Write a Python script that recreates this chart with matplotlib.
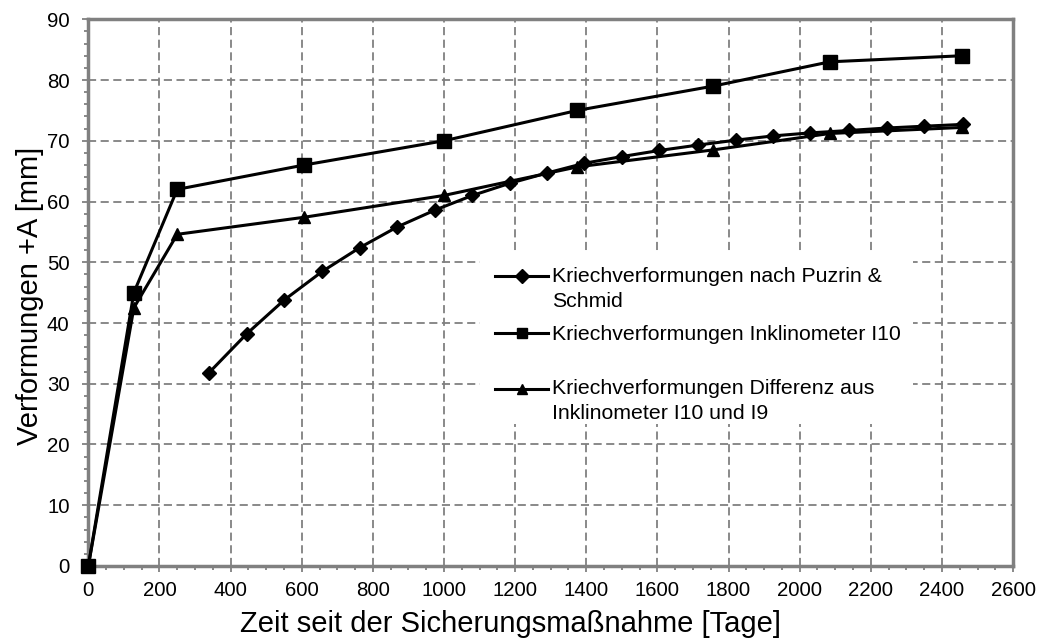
import matplotlib.pyplot as plt
from matplotlib.patches import Rectangle
from matplotlib.ticker import MultipleLocator

plt.rcParams['font.family'] = ['Liberation Sans', 'DejaVu Sans']

# Kriechverformungen nach Puzrin & Schmid
t_puzrin = [339, 445, 551, 658, 763, 868, 975, 1080, 1185, 1290, 1395,
            1500, 1605, 1715, 1820, 1925, 2030, 2140, 2245, 2350, 2460]
v_puzrin = [31.8, 38.2, 43.8, 48.5, 52.4, 55.8, 58.6, 61.0, 63.0, 64.7, 66.3,
            67.4, 68.4, 69.3, 70.1, 70.8, 71.3, 71.7, 72.1, 72.4, 72.7]

# Inklinometer I10
t_i10 = [0, 128, 250, 606, 1000, 1375, 1757, 2085, 2457]
v_i10 = [0, 45.0, 62.0, 66.0, 70.0, 75.0, 79.0, 83.0, 84.0]

# Differenz aus I10 und I9
t_diff = [0, 128, 250, 606, 1000, 1375, 1757, 2085, 2457]
v_diff = [0, 42.5, 54.6, 57.4, 61.0, 65.7, 68.5, 71.2, 72.2]

# blank first lines keep the legend lines on the first text row
labels = ['\nKriechverformungen nach Puzrin &\nSchmid',
          'Kriechverformungen Inklinometer I10',
          '\nKriechverformungen Differenz aus\nInklinometer I10 und I9']

fig = plt.figure(figsize=(10.38, 6.43), dpi=100)
ax = fig.add_axes([0.0851, 0.1198, 0.8909, 0.8502])

l1, = ax.plot(t_puzrin, v_puzrin, color='black', lw=2.2, marker='D', ms=7,
              zorder=4, clip_on=False)
l2, = ax.plot(t_i10, v_i10, color='black', lw=2.2, marker='s', ms=10,
              zorder=4, clip_on=False)
l3, = ax.plot(t_diff, v_diff, color='black', lw=2.2, marker='^', ms=9,
              zorder=4, clip_on=False)

ax.set_xlim(0, 2600)
ax.set_ylim(0, 90)
ax.xaxis.set_major_locator(MultipleLocator(200))
ax.xaxis.set_minor_locator(MultipleLocator(50))
ax.yaxis.set_major_locator(MultipleLocator(10))
ax.yaxis.set_minor_locator(MultipleLocator(2))

ax.grid(True, which='major', color='#808080', linestyle=(0, (4.5, 2.5)), lw=1.3)
ax.set_axisbelow(True)
for s in ax.spines.values():
    s.set_color('#808080')
    s.set_linewidth(2.5)
ax.tick_params(which='major', direction='out', length=4.5, width=1.3, color='#808080',
               labelsize=14.7)
ax.tick_params(which='minor', direction='out', length=3, width=1.3, color='#808080')
ax.tick_params(axis='x', which='major', pad=6)
ax.tick_params(axis='y', which='major', pad=9)

ax.set_xlabel('Zeit seit der Sicherungsmaßnahme [Tage]', fontsize=21, va='center')
ax.xaxis.set_label_coords(0.456, -0.106)
ax.set_ylabel('Verformungen +A [mm]', fontsize=21, va='center')
ax.yaxis.set_label_coords(-0.063, 0.4936)

# white box behind the legend hides the grid
ax.add_patch(Rectangle((0.4236, 0.2596), 0.4682, 0.3108, transform=ax.transAxes,
                       facecolor='white', edgecolor='none', zorder=1))


def make_legend(handles, texts, top):
    leg = ax.legend(handles, texts, loc='upper left', bbox_to_anchor=(0.4398, top),
                    frameon=False, fontsize=15.3, handlelength=2.5, handletextpad=0.2,
                    labelspacing=0.67, borderpad=0, borderaxespad=0)
    leg.set_zorder(5)
    for t in leg.get_texts():
        t.set_linespacing(1.4)
    for h in leg.legend_handles:
        h.set_markersize(7)
    return leg


# first two entries, then the third one a bit lower
leg_a = make_legend([l1, l2], labels[:2], 0.593)
ax.add_artist(leg_a)
make_legend([l3], labels[2:], 0.387)

fig.savefig('out.png', dpi=100)
